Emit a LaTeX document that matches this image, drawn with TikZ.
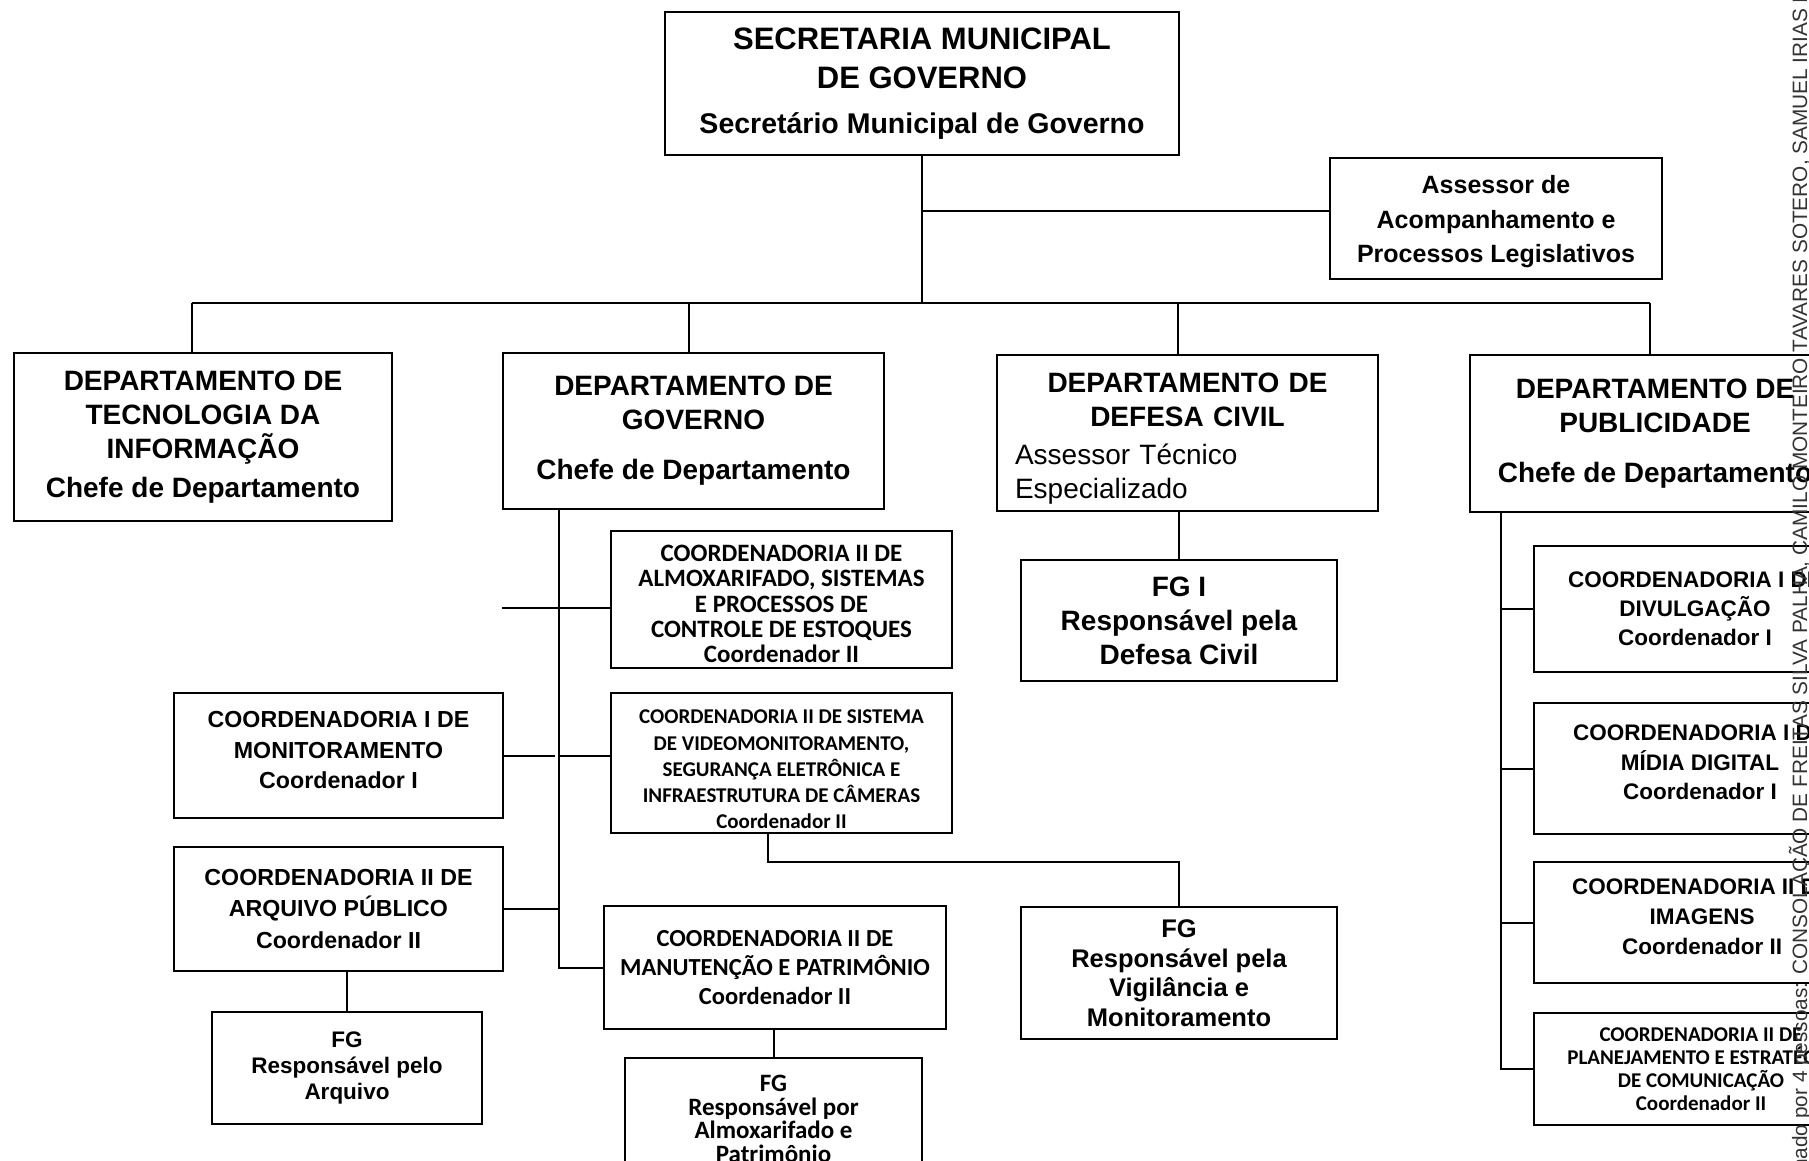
\documentclass[tikz,border=0pt]{standalone}
\usepackage{fontspec}
\setmainfont{Liberation Sans}
\newfontfamily\calibrifont{Carlito}
\usetikzlibrary{calc}

% font size with explicit leading
\newcommand\fs[2]{\fontsize{#1}{#2}\selectfont}
% invisible struts that push a text block up or down inside its box
\newcommand\padtop[1]{\hrule height 0pt\vspace{#1}}
\newcommand\padbot[1]{\par\vspace{#1}\hrule height 0pt}

\begin{document}
\begin{tikzpicture}[x=1pt,y=-1pt,
  box/.style={draw, line width=2pt, align=center, inner sep=0pt, font=\bfseries},
  cbox/.style={box, font=\calibrifont\bfseries},
  wbox/.style={box, align=flush center},
  link/.style={line width=2pt},
]
\useasboundingbox (0,0) rectangle (1809,1161);
\fill[white] (0,0) rectangle (1809,1161);

% ---- top level
\node[box, minimum width=514pt, minimum height=143pt, font=\bfseries\fs{31}{39}] (top) at (922,83.5)
  {SECRETARIA MUNICIPAL\\DE GOVERNO\\[6pt]{\fs{28.5}{39}Secretário Municipal de Governo}};
\node[wbox, minimum width=332pt, minimum height=121pt, text width=332pt,
      font=\bfseries\fs{25}{34.5}] (ass) at (1496,218.5)
  {\padtop{7pt}Assessor de\\Acompanhamento e\\Processos Legislativos};

% ---- departments
\node[box, minimum width=378pt, minimum height=168pt, font=\bfseries\fs{28}{34}] (ti) at (203,437)
  {DEPARTAMENTO DE\\TECNOLOGIA DA\\INFORMAÇÃO\\[5pt]Chefe de Departamento};
\node[box, minimum width=381pt, minimum height=156pt, font=\bfseries\fs{28}{34}] (gov) at (693.5,431)
  {DEPARTAMENTO DE\\GOVERNO\\[16pt]Chefe de Departamento};
\node[box, minimum width=381pt, minimum height=156pt, align=left, text width=345pt,
      inner xsep=18pt, font=\fs{28}{34}] (def) at (1187.5,433)
  {\padtop{12pt}{\centering\bfseries DEPARTAMENTO DE\\DEFESA CIVIL\par}\vspace{4pt}Assessor Técnico\\Especializado};
\node[box, minimum width=370pt, minimum height=157pt, font=\bfseries\fs{28}{34}] (pub) at (1655,433.5)
  {DEPARTAMENTO DE\\PUBLICIDADE\\[16pt]Chefe de Departamento};

% ---- Departamento de Governo
\node[wbox, minimum width=341pt, minimum height=137pt, text width=341pt,
      font=\calibrifont\bfseries\fs{25}{25.3}] (almox) at (781.5,599.5)
  {\padtop{9pt}COORDENADORIA II DE\\ALMOXARIFADO, SISTEMAS\\E PROCESSOS DE\\CONTROLE DE ESTOQUES\\Coordenador II};
\node[wbox, minimum width=341pt, minimum height=140pt, text width=341pt,
      font=\calibrifont\bfseries\fs{21}{26.2}] (video) at (781.5,763)
  {\padtop{13pt}COORDENADORIA II DE SISTEMA\\DE VIDEOMONITORAMENTO,\\SEGURANÇA ELETRÔNICA E\\INFRAESTRUTURA DE CÂMERAS\\Coordenador II};
\node[wbox, minimum width=329pt, minimum height=125pt, text width=329pt,
      font=\bfseries\fs{23.2}{30.5}] (monit) at (338.5,755.5)
  {COORDENADORIA I DE\\MONITORAMENTO\\Coordenador I\padbot{10pt}};
\node[box, minimum width=329pt, minimum height=124pt, font=\bfseries\fs{23.2}{31.5}] (arq) at (338.5,909)
  {COORDENADORIA II DE\\ARQUIVO PÚBLICO\\Coordenador II};
\node[cbox, minimum width=342pt, minimum height=123pt, font=\calibrifont\bfseries\fs{24.5}{29}] (manut) at (775,967.5)
  {COORDENADORIA II DE\\MANUTENÇÃO E PATRIMÔNIO\\Coordenador II};
\node[cbox, minimum width=297pt, minimum height=122pt, font=\calibrifont\bfseries\fs{25}{23.5}] (fgalm) at (773.5,1119)
  {FG\\Responsável por\\Almoxarifado e\\Patrimônio};
\node[box, minimum width=270pt, minimum height=112pt, font=\bfseries\fs{22.5}{26}] (fgarq) at (347,1068)
  {FG\\Responsável pelo\\Arquivo};
\node[box, minimum width=316pt, minimum height=132pt, font=\bfseries\fs{25.5}{29.5}] (fgvig) at (1179,973)
  {FG\\Responsável pela\\Vigilância e\\Monitoramento};

% ---- Departamento de Defesa Civil
\node[box, minimum width=316pt, minimum height=121pt, font=\bfseries\fs{28}{34}] (fgdef) at (1179,620.5)
  {FG I\\Responsável pela\\Defesa Civil};

% ---- Departamento de Publicidade
\node[box, minimum width=322pt, minimum height=126pt, font=\bfseries\fs{22.5}{29}] (divul) at (1695,609)
  {COORDENADORIA I DE\\DIVULGAÇÃO\\Coordenador I};
\node[wbox, minimum width=332pt, minimum height=131pt, text width=332pt,
      font=\bfseries\fs{22.5}{29.5}] (midia) at (1700,768.5)
  {COORDENADORIA I DE\\MÍDIA DIGITAL\\Coordenador I\padbot{12pt}};
\node[wbox, minimum width=336pt, minimum height=121pt, text width=336pt,
      font=\bfseries\fs{22.5}{30}] (imag) at (1702,922.5)
  {COORDENADORIA II DE\\IMAGENS\\Coordenador II\padbot{12pt}};
\node[cbox, minimum width=334pt, minimum height=112pt, font=\calibrifont\bfseries\fs{21}{23}] (plan) at (1701,1069)
  {COORDENADORIA II DE\\PLANEJAMENTO E ESTRATÉGIA\\DE COMUNICAÇÃO\\Coordenador II};

% ---- connectors
\coordinate (bus) at (0,303);
\coordinate (busTI) at (192,303);
\coordinate (busGov) at (689,303);
\coordinate (busDef) at (1178,303);
\coordinate (busPub) at (1650,303);
\coordinate (assY) at (0,211);
\draw[link] (top.south) -- (top.south |- bus);
\draw[link] (top.south |- assY) -- (ass.west |- assY);
\draw[link] (busTI) -- (busPub);
\draw[link] (busTI) -- (busTI |- ti.north);
\draw[link] (busGov) -- (busGov |- gov.north);
\draw[link] (busDef) -- (busDef |- def.north);
\draw[link] (busPub) -- (busPub |- pub.north);

% Governo spine
\coordinate (gv) at (559,509);
\coordinate (almY) at (0,608);
\draw[link] (gv) -- (gv |- manut.west) -- (manut.west);
\draw[link] (gov.west |- almY) -- (almox.west |- almY);
\draw[link] (monit.east) -- ([xshift=-4pt]gv |- monit.east);
\draw[link] (gv |- monit.east) -- (video.west |- monit.east);
\draw[link] (arq.east) -- (gv |- arq.east);
\draw[link] (fgarq.north |- arq.south) -- (fgarq.north);
\draw[link] (fgalm.north |- manut.south) -- (fgalm.north);
\draw[link] ([xshift=-13.5pt]video.south) -- ++(0,28) -| (fgvig.north);

% Defesa Civil
\draw[link] (fgdef.north |- def.south) -- (fgdef.north);

% Publicidade spine
\coordinate (pv) at (1501,512);
\draw[link] (pv) -- (pv |- plan.west) -- (plan.west);
\draw[link] (pv |- divul.west) -- (divul.west);
\draw[link] (pv |- midia.west) -- (midia.west);
\draw[link] (pv |- imag.west) -- (imag.west);

% signature stamp along the right margin
\node[rotate=90, anchor=base east, inner sep=0pt, text=black!80, font=\fs{20.8}{20.8}] (stamp) at (1807,-3)
  {inado por 4 pessoas: CONSOLAÇÃO DE FREITAS SILVA PALHA, CAMILO MONTEIRO TAVARES SOTERO, SAMUEL IRIAS I};
\end{tikzpicture}
\end{document}
